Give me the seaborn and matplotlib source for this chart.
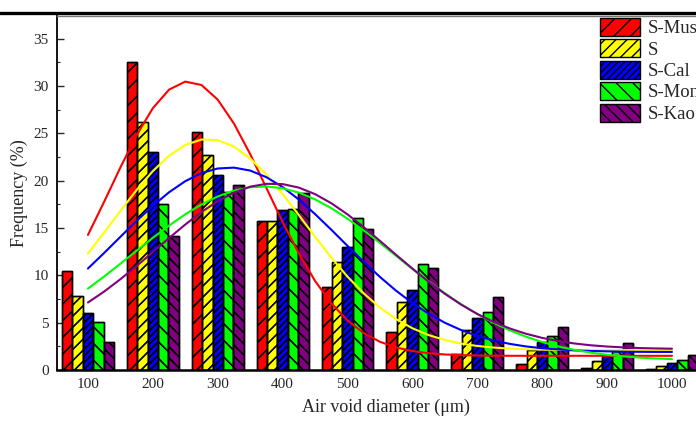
import numpy as np
import pandas as pd
import matplotlib
matplotlib.use('Agg')
import matplotlib.pyplot as plt
from matplotlib.patches import Patch, Rectangle
from matplotlib.lines import Line2D
from matplotlib.ticker import MultipleLocator
import seaborn as sns

# bar data (frequency %, per air void diameter class)
diameters = ['100', '200', '300', '400', '500', '600', '700', '800', '900', '1000']
samples = ['S-Mus', 'S', 'S-Cal', 'S-Mon', 'S-Kao']
colors = ['#FF0000', '#FFFF00', '#0000FF', '#00FF00', '#800080']
hatches = ['//', '///', '/////', '\\\\', '\\\\\\']

s_mus = [10.5, 32.5, 25.1, 15.7, 8.8, 4.05, 1.65, 0.6, 0.2, 0.07]
s_plain = [7.8, 26.2, 22.75, 15.7, 11.45, 7.2, 4.2, 2.1, 1.0, 0.42]
s_cal = [6.05, 23.05, 20.6, 16.9, 13.0, 8.45, 5.45, 2.95, 1.6, 0.7]
s_mon = [5.1, 17.5, 18.85, 17.0, 16.1, 11.2, 6.1, 3.55, 2.0, 1.05]
s_kao = [3.0, 14.2, 19.5, 18.7, 14.9, 10.8, 7.7, 4.55, 2.8, 1.6]

fit_d = list(range(100, 1001, 25))
fit_mus = [14.27, 17.78, 21.40, 24.81, 27.66, 29.62, 30.47, 30.11, 28.56, 26.03,
           22.81, 19.23, 15.64, 12.31, 9.41, 7.05, 5.23, 3.90, 2.98, 2.38,
           2.00, 1.77, 1.64, 1.57, 1.53, 1.51, 1.50, 1.50, 1.50, 1.50,
           1.50, 1.50, 1.50, 1.50, 1.50, 1.50, 1.50]
fit_s = [12.31, 14.53, 16.81, 19.02, 21.01, 22.64, 23.78, 24.35, 24.29, 23.60,
         22.35, 20.64, 18.59, 16.36, 14.08, 11.88, 9.86, 8.09, 6.59, 5.37,
         4.41, 3.69, 3.17, 2.79, 2.54, 2.37, 2.26, 2.19, 2.15, 2.13,
         2.12, 2.11, 2.11, 2.10, 2.10, 2.10, 2.10]
fit_cal = [10.72, 12.37, 14.07, 15.76, 17.35, 18.78, 19.95, 20.81, 21.29, 21.38,
           21.07, 20.37, 19.33, 18.01, 16.47, 14.82, 13.11, 11.43, 9.83, 8.37,
           7.07, 5.94, 4.99, 4.22, 3.60, 3.12, 2.76, 2.49, 2.30, 2.17,
           2.07, 2.01, 1.97, 1.94, 1.92, 1.91, 1.91]
fit_mon = [8.60, 9.88, 11.23, 12.60, 13.96, 15.26, 16.45, 17.49, 18.34, 18.95,
           19.31, 19.39, 19.20, 18.74, 18.03, 17.10, 15.99, 14.75, 13.42, 12.05,
           10.68, 9.36, 8.11, 6.95, 5.91, 4.99, 4.19, 3.52, 2.95, 2.49,
           2.12, 1.83, 1.61, 1.44, 1.31, 1.22, 1.15]
fit_kao = [7.13, 8.29, 9.59, 10.99, 12.46, 13.94, 15.37, 16.69, 17.83, 18.74,
           19.37, 19.67, 19.64, 19.27, 18.58, 17.62, 16.44, 15.09, 13.64, 12.16,
           10.71, 9.32, 8.05, 6.91, 5.92, 5.08, 4.39, 3.83, 3.39, 3.05,
           2.80, 2.61, 2.48, 2.39, 2.32, 2.28, 2.25]

bar_values = [s_mus, s_plain, s_cal, s_mon, s_kao]
fit_values = [fit_mus, fit_s, fit_cal, fit_mon, fit_kao]

rows = []
for name, vals in zip(samples, bar_values):
    for d, v in zip(diameters, vals):
        rows.append({'diameter': d, 'sample': name, 'freq': v})
df = pd.DataFrame(rows)

sns.set_style('white')
plt.rcParams['font.family'] = ['Liberation Serif', 'DejaVu Serif']

fig = plt.figure(figsize=(6.96, 4.21), dpi=100)
# right edge of the axes sits at the picture edge (the original is cropped there)
ax = fig.add_axes([57 / 696, 51 / 421, 639 / 696, 354 / 421])

sns.barplot(data=df, x='diameter', y='freq', hue='sample', order=diameters,
            hue_order=samples, palette=colors, saturation=1, width=0.8,
            edgecolor='black', linewidth=1.0, errorbar=None, legend=False, ax=ax)

# seaborn adds the bars one sample after another; hatch them, and lay a
# hatch-only copy of each bar on top so the pattern shows for sure
bars = [p for p in ax.patches if isinstance(p, Rectangle)]
for i, p in enumerate(bars):
    h = hatches[(i // len(diameters)) % len(hatches)]
    p.set_hatch(h)
    p.set_edgecolor('black')
    over = Rectangle((p.get_x(), p.get_y()), p.get_width(), p.get_height(),
                     fill=False, hatch=h, edgecolor='black', linewidth=1.0,
                     zorder=p.get_zorder() + 0.1)
    ax.add_patch(over)

# curves: convert diameter to categorical position
fit_pos = [(d - 100) / 100 for d in fit_d]
for vals, c in zip(fit_values, colors):
    ax.plot(fit_pos, vals, color=c, lw=1.5, zorder=5)

ax.set_xlim(-0.477, 9.37)
ax.set_ylim(0, 37.4)
ax.yaxis.set_major_locator(MultipleLocator(5))
ax.yaxis.set_minor_locator(MultipleLocator(2.5))
ax.tick_params(axis='y', which='major', direction='in', length=5, width=1,
               labelsize=11, pad=6, left=True)
ax.tick_params(axis='y', which='minor', direction='in', length=2.5, width=0.8, left=True)
ax.tick_params(axis='x', length=0, labelsize=11, pad=6)

ax.set_xlabel('Air void diameter (μm)', fontsize=13)
ax.xaxis.set_label_coords(0.515, -0.08)
ax.set_ylabel('Frequency (%)', fontsize=13, labelpad=4)

for side in ['left', 'bottom']:
    ax.spines[side].set_color('black')
    ax.spines[side].set_linewidth(1.3)
ax.spines['bottom'].set_linewidth(1.8)
ax.spines['top'].set_color('#777777')
ax.spines['top'].set_linewidth(1.0)
ax.spines['right'].set_visible(False)

handles = [Patch(facecolor=c, edgecolor='black', hatch=h, linewidth=1.0)
           for c, h in zip(colors, hatches)]
ax.legend(handles, samples, loc='upper left', bbox_to_anchor=(543 / 639, 0.995),
          frameon=False, fontsize=13.5, handlelength=2.13, handleheight=1.1,
          handletextpad=0.43, labelspacing=0.11, borderpad=0, borderaxespad=0)

# thick rule across the top of the picture
fig.add_artist(Line2D([0, 1], [1 - 13.3 / 421] * 2, color='black', lw=2.4,
                      transform=fig.transFigure))

fig.savefig('out.png', dpi=100)
